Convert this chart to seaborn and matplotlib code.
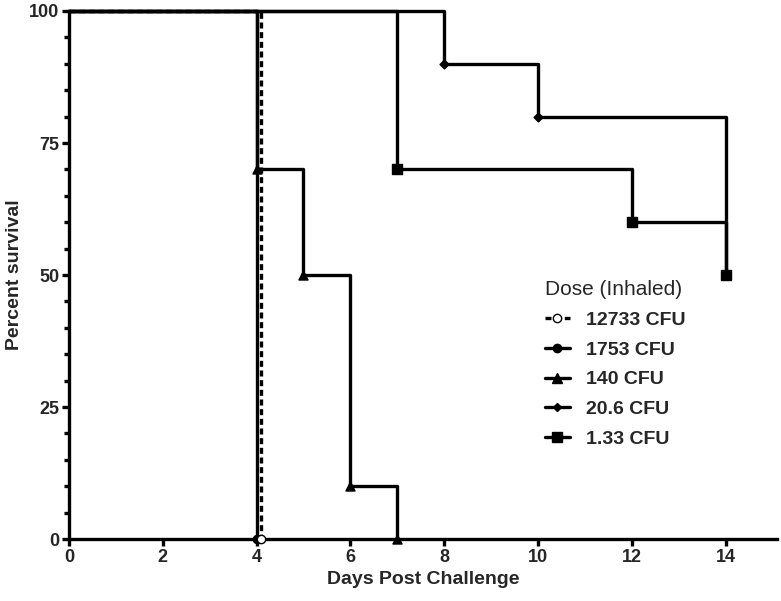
import pandas as pd
import seaborn as sns
from matplotlib import pyplot as plt
from matplotlib.lines import Line2D
from matplotlib.ticker import MultipleLocator

# survival data: day of each step and percent surviving after it
doses = ['12733 CFU', '1753 CFU', '140 CFU', '20.6 CFU', '1.33 CFU']
days = {
    '12733 CFU': [0, 4.1],
    '1753 CFU': [0, 4],
    '140 CFU': [0, 4, 5, 6, 7],
    '20.6 CFU': [0, 8, 10, 14],
    '1.33 CFU': [0, 7, 12, 14],
}
survival = {
    '12733 CFU': [100, 0],
    '1753 CFU': [100, 0],
    '140 CFU': [100, 70, 50, 10, 0],
    '20.6 CFU': [100, 90, 80, 50],
    '1.33 CFU': [100, 70, 60, 50],
}
markers = {'12733 CFU': 'o', '1753 CFU': 'o', '140 CFU': '^',
           '20.6 CFU': 'D', '1.33 CFU': 's'}
marker_size = {'12733 CFU': 6, '1753 CFU': 6, '140 CFU': 6.5,
               '20.6 CFU': 4.5, '1.33 CFU': 6.5}
face = {'12733 CFU': 'white'}
dash = {'12733 CFU': (0, (1.8, 1.1))}

sns.set_style("ticks")
plt.rcParams['font.family'] = ['Liberation Sans', 'DejaVu Sans']

fig = plt.figure(figsize=(7.81, 6.01), dpi=100)
ax = fig.add_axes([0.0883, 0.103, 0.9067, 0.8787])

lw = 2.4
# draw in reverse so the dashed 12733 line sits on top
for dose in doses[::-1]:
    df = pd.DataFrame({'day': days[dose], 'pct': survival[dose]})
    sns.lineplot(data=df, x='day', y='pct', ax=ax, color='black',
                 drawstyle='steps-post', estimator=None, sort=False,
                 linewidth=lw, linestyle=dash.get(dose, '-'),
                 clip_on=False, zorder=3)
    ev = df.iloc[1:]
    sns.scatterplot(data=ev, x='day', y='pct', ax=ax,
                    marker=markers[dose], s=marker_size[dose] ** 2,
                    color=face.get(dose, 'black'), edgecolor='black',
                    linewidth=1, clip_on=False, zorder=4)

ax.set_xlim(0, 15.1)
ax.set_ylim(0, 100)
ax.yaxis.set_major_locator(MultipleLocator(25))
ax.yaxis.set_minor_locator(MultipleLocator(5))
ax.set_xticks(range(0, 15, 2))

for side in ['top', 'right']:
    ax.spines[side].set_visible(False)
for side in ['left', 'bottom']:
    ax.spines[side].set_linewidth(2.4)
    ax.spines[side].set_color('black')
ax.tick_params(which='major', length=5, width=2.4, color='black',
               labelsize=13, pad=2)
ax.tick_params(which='minor', length=3.5, width=2.4, color='black')
for lab in ax.get_xticklabels() + ax.get_yticklabels():
    lab.set_fontweight('bold')

ax.set_xlabel('Days Post Challenge', fontsize=14, fontweight='bold')
ax.set_ylabel('Percent survival', fontsize=14, fontweight='bold',
              labelpad=4)

# legend
handles = []
for dose in doses:
    handles.append(Line2D([0], [0], color='black', linewidth=lw,
                          linestyle=dash.get(dose, '-'),
                          marker=markers[dose],
                          markersize=marker_size[dose],
                          markerfacecolor=face.get(dose, 'black'),
                          markeredgecolor='black', markeredgewidth=1))
le = ax.legend(handles, doses, title='Dose (Inhaled)', loc='upper left',
               bbox_to_anchor=(0.672, 0.49), frameon=False,
               alignment='left', borderpad=0, borderaxespad=0,
               handlelength=1.3, handletextpad=0.8, labelspacing=0.62,
               prop={'size': 14, 'weight': 'bold'},
               title_fontproperties={'size': 15})

plt.savefig('out.png', dpi=100)
